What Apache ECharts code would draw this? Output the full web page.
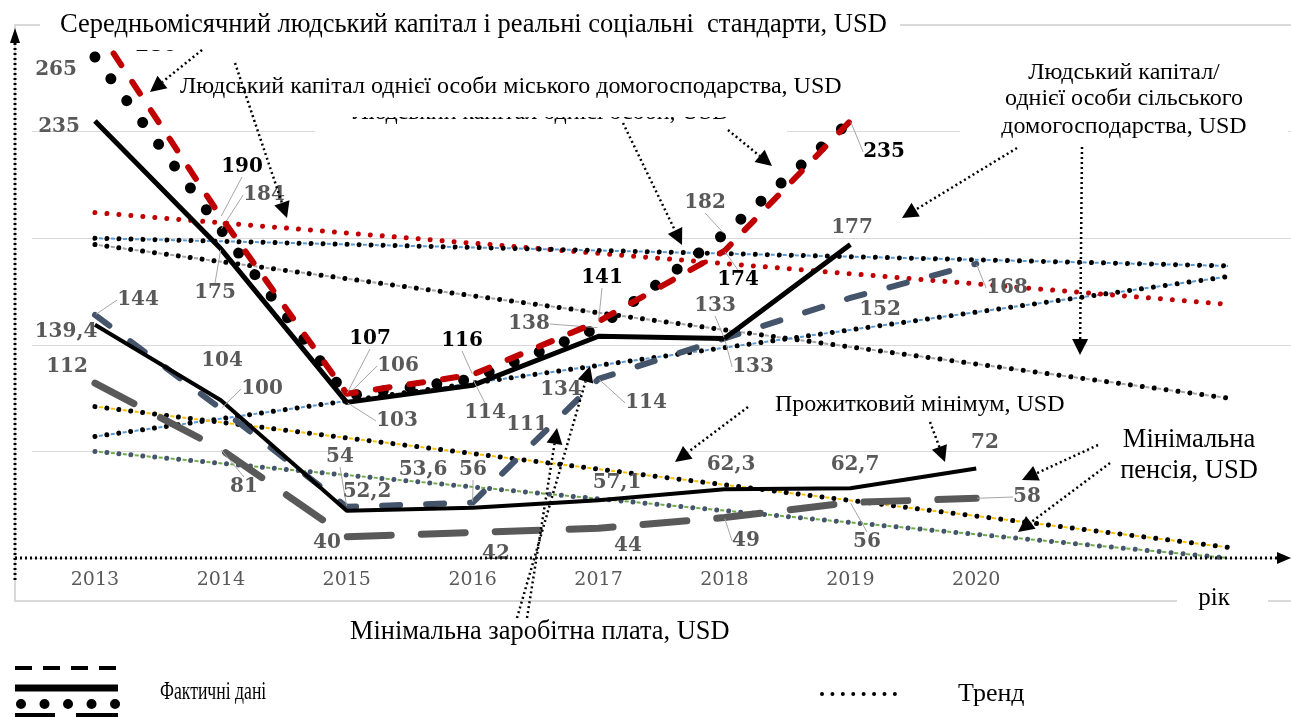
<!DOCTYPE html>
<html>
<head>
<meta charset="utf-8">
<script src="https://cdn.jsdelivr.net/npm/echarts@6/dist/echarts.min.js"></script>
<style>
  html, body { margin: 0; padding: 0; background: #fff; }
  #chart { width: 1291px; height: 717px; }
</style>
</head>
<body>
<div id="chart"></div>
<script>
// роки (дві останні позиції - прогноз тренду)
const years = ['2013', '2014', '2015', '2016', '2017', '2018', '2019', '2020', '', '']

// фактичні дані, USD
const avgCapital = [280, 190, 107, 116, 141, 174, 235]
const urbanCapital = [265, 184, 106, 114, 138, 182, 235]
const ruralCapital = [235, 175, 103, 111, 134, 133, 177]
const minWage = [144, 100, 54, 56, 114, 133, 152, 168]
const subsistence = [139.4, 104, 52.2, 53.6, 57.1, 62.3, 62.7, 72]
const minPension = [112, 81, 40, 42, 44, 49, 56, 58]

// тренди: значення на 2013 і на кінець прогнозу
const avgTrend = [192, 149]
const urbanTrend = [180, 167]
const ruralTrend = [177, 105]
const wageTrend = [87, 162]
const subsistenceTrend = [101, 35]
const pensionTrend = [80, 30]

// розміщення підписів (центр тексту, px) і чи є виноска
const labelPos = {
    avg: [[156, 46], [242, 167], [370, 339], [462, 341], [602, 278], [738, 280], [884, 152]],
    urban: [[56, 70], [264, 195], [398, 366], [485, 413], [529, 324], [705, 203], null],
    rural: [[59, 127], [215, 293], [397, 421], [527, 425], [561, 390], [715, 306], [852, 228]],
    wage: [[138, 300], [262, 389], [340, 457], [473, 470], [646, 403], [753, 367], [880, 310], [1007, 288]],
    subs: [[66, 332], [222, 361], [367, 492], [423, 470], [617, 483], [731, 465], [855, 465], [985, 443]],
    pension: [[67, 367], [244, 487], [327, 543], [496, 554], [628, 546], [746, 541], [867, 542], [1027, 497]]
}
const leaders = {
    avg: [0, 1, 1, 1, 1, 1, 1],
    urban: [0, 1, 1, 1, 1, 1, 0],
    rural: [0, 1, 1, 0, 0, 1, 0],
    wage: [1, 1, 1, 1, 1, 1, 0, 1],
    subs: [0, 0, 0, 0, 0, 0, 0, 0],
    pension: [0, 1, 0, 0, 0, 1, 1, 1]
}

const SERIF = '"Liberation Serif", "DejaVu Serif", serif'

const factSeries = (name, values, key, lineStyle, labelColor, z) => ({
    name,
    type: 'line',
    z,
    data: values.map((v, i) => ({
        value: v,
        label: { show: !!labelPos[key][i] },
        labelLine: { show: !!leaders[key][i] }
    })),
    symbol: 'circle',
    symbolSize: 2,
    itemStyle: { color: 'rgba(0,0,0,0)' },
    lineStyle: Object.assign({ join: 'round' }, lineStyle),
    label: {
        show: true,
        position: 'inside',
        color: labelColor,
        fontFamily: '"DejaVu Serif", serif',
        fontWeight: 'bold',
        fontSize: 20,
        formatter: p => String(p.value).replace('.', ',')
    },
    labelLine: { show: true, lineStyle: { color: '#a6a6a6', width: 1 } },
    labelLayout: p => {
        const pos = labelPos[key][p.dataIndex]
        return pos ? { x: pos[0], y: pos[1], align: 'center', verticalAlign: 'middle' } : {}
    },
    emphasis: { disabled: true },
    silent: true
})

const trendSeries = (name, ends, dotColor, gapColor) => {
    const data = [[0, ends[0]], [9, ends[1]]]
    const list = []
    if (gapColor) {
        list.push({
            type: 'line', data, symbol: 'none', z: 1, silent: true,
            lineStyle: { color: gapColor, width: 2, type: [4, 8], dashOffset: 8 }
        })
    }
    list.push({
        name, type: 'line', data, symbol: 'none', z: 2, silent: true,
        lineStyle: { color: dotColor, width: 5, type: [0.01, 12], cap: 'round' }
    })
    return list
}

// пунктирні стрілки-виноски: [початок, вістря]
const arrows = [
    [202, 50, 150, 92], [235, 63, 287, 218], [623, 123, 682, 245], [728, 130, 772, 166],
    [1017, 148, 902, 218], [1082, 147, 1080, 355], [527, 618, 557, 428], [517, 618, 590, 366],
    [748, 407, 675, 462], [930, 422, 945, 462], [1098, 445, 1022, 480], [1110, 463, 1018, 532]
]

const arrowGraphic = ([x1, y1, x2, y2]) => {
    const len = Math.hypot(x2 - x1, y2 - y1)
    const ux = (x2 - x1) / len, uy = (y2 - y1) / len
    const bx = x2 - ux * 16, by = y2 - uy * 16
    return [
        { type: 'line', z: 60, shape: { x1, y1, x2: bx, y2: by },
          style: { stroke: '#000', lineWidth: 2.5, lineDash: [2, 3] } },
        { type: 'polygon', z: 60,
          shape: { points: [[x2, y2], [bx - uy * 8, by + ux * 8], [bx + uy * 8, by - ux * 8]] },
          style: { fill: '#000' } }
    ]
}

const box = (x, y, w, h, z) => ({ type: 'rect', z: z || 50, shape: { x, y, width: w, height: h }, style: { fill: '#fff' } })
const text = (str, x, y, size, align, extra) => Object.assign({
    type: 'text', z: 51, x, y,
    style: {
        text: str, font: size + 'px ' + SERIF, fill: '#000',
        textAlign: align || 'left', align: align || 'left',
        textVerticalAlign: 'middle', verticalAlign: 'middle'
    }
}, extra || {})

const graphics = [
    // рамка
    { type: 'rect', z: 0, shape: { x: 15, y: 25, width: 1290, height: 576 },
      style: { fill: 'none', stroke: '#d9d9d9', lineWidth: 2 } },
    // підписи з білим тлом
    box(40, 0, 860, 50),
    text('Середньомісячний людський капітал і реальні соціальні  стандарти, USD', 60, 25, 26.5),
    box(315, 95, 472, 45, 46),
    text('Людський капітал однієї особи, USD', 541, 113, 24, 'center', { z: 47 }),
    box(172, 70, 680, 47),
    text('Людський капітал однієї особи міського домогосподарства, USD', 180, 87, 24),
    box(960, 55, 328, 92),
    text('Людський капітал/', 1124, 73, 24, 'center'),
    text('однієї особи сільського', 1124, 99, 24, 'center'),
    text('домогосподарства, USD', 1124, 127, 24, 'center'),
    box(768, 392, 307, 28),
    text('Прожитковий мінімум, USD', 775, 405, 24),
    box(1090, 424, 201, 62),
    text('Мінімальна', 1189, 440, 26.5, 'center'),
    text('пенсія, USD', 1189, 471, 26.5, 'center'),
    text('Мінімальна заробітна плата, USD', 350, 632, 26.4),
    box(1177, 585, 91, 26),
    text('рік', 1214, 598, 25, 'center'),
    // осі
    { type: 'line', z: 60, shape: { x1: 15, y1: 580, x2: 15, y2: 40 },
      style: { stroke: '#000', lineWidth: 3, lineDash: [2, 3] } },
    { type: 'polygon', z: 60, shape: { points: [[15, 28], [10, 43], [20, 43]] }, style: { fill: '#000' } },
    { type: 'line', z: 60, shape: { x1: 15, y1: 558, x2: 1280, y2: 558 },
      style: { stroke: '#000', lineWidth: 3, lineDash: [2, 3] } },
    { type: 'polygon', z: 60, shape: { points: [[1291, 558], [1277, 552], [1277, 564]] }, style: { fill: '#000' } },
    // легенда
    { type: 'line', z: 60, shape: { x1: 15, y1: 668, x2: 118, y2: 668 },
      style: { stroke: '#000', lineWidth: 4, lineDash: [17, 11] } },
    { type: 'line', z: 60, shape: { x1: 15, y1: 688, x2: 118, y2: 688 },
      style: { stroke: '#000', lineWidth: 7 } },
    { type: 'line', z: 60, shape: { x1: 21, y1: 704, x2: 117, y2: 704 },
      style: { stroke: '#000', lineWidth: 10, lineDash: [0.01, 23.5], lineCap: 'round' } },
    { type: 'rect', z: 60, shape: { x: 15, y: 713, width: 40, height: 6 }, style: { fill: '#000' } },
    { type: 'rect', z: 60, shape: { x: 76, y: 713, width: 42, height: 6 }, style: { fill: '#000' } },
    text('Фактичні дані', 160, 692, 26, 'left', { scaleX: 0.68 }),
    { type: 'line', z: 60, shape: { x1: 822, y1: 694, x2: 905, y2: 694 },
      style: { stroke: '#000', lineWidth: 4, lineDash: [0.01, 10.4], lineCap: 'round' } },
    text('Тренд', 958, 694, 26)
]
arrows.forEach(a => graphics.push(...arrowGraphic(a)))

const chart = echarts.init(document.getElementById('chart'))

const option = {
    animation: false,
    backgroundColor: '#fff',
    grid: { left: 32, top: 25, width: 1265, height: 533 },
    xAxis: {
        type: 'category',
        data: years,
        axisLine: { show: false },
        axisTick: { show: false },
        axisLabel: {
            color: '#595959',
            fontFamily: '"DejaVu Serif", serif',
            fontSize: 19,
            margin: 13
        }
    },
    yAxis: {
        type: 'value',
        min: 30,
        max: 280,
        interval: 50,
        axisLine: { show: false },
        axisTick: { show: false },
        axisLabel: { show: false },
        splitLine: { lineStyle: { color: '#d9d9d9', width: 1 } }
    },
    series: [
        ...trendSeries('Тренд: середньомісячний людський капітал', avgTrend, '#c00000', null),
        ...trendSeries('Тренд: міське домогосподарство', urbanTrend, '#000', '#5b9bd5'),
        ...trendSeries('Тренд: сільське домогосподарство', ruralTrend, '#000', '#a5a5a5'),
        ...trendSeries('Тренд: мінімальна заробітна плата', wageTrend, '#000', '#5b9bd5'),
        ...trendSeries('Тренд: прожитковий мінімум', subsistenceTrend, '#000', '#ffc000'),
        ...trendSeries('Тренд: мінімальна пенсія', pensionTrend, '#44546a', '#70ad47'),
        factSeries('Мінімальна пенсія, USD', minPension, 'pension',
            { color: '#595959', width: 7, type: [44, 30], cap: 'round' }, '#595959', 3),
        factSeries('Мінімальна заробітна плата, USD', minWage, 'wage',
            { color: '#44546a', width: 6, type: [18, 26], cap: 'round' }, '#595959', 3),
        factSeries('Прожитковий мінімум, USD', subsistence, 'subs',
            { color: '#000', width: 4 }, '#595959', 3),
        factSeries('Людський капітал однієї особи сільського домогосподарства, USD', ruralCapital, 'rural',
            { color: '#000', width: 5 }, '#595959', 3),
        factSeries('Людський капітал однієї особи міського домогосподарства, USD', urbanCapital, 'urban',
            { color: '#000', width: 11, type: [0.01, 27], cap: 'round' }, '#595959', 4),
        factSeries('Середньомісячний людський капітал, USD', avgCapital, 'avg',
            { color: '#c00000', width: 6, type: [14, 20], cap: 'round' }, '#000', 5)
    ],
    graphic: { elements: graphics }
}

chart.setOption(option)
window.addEventListener('resize', () => chart.resize())
</script>
</body>
</html>
